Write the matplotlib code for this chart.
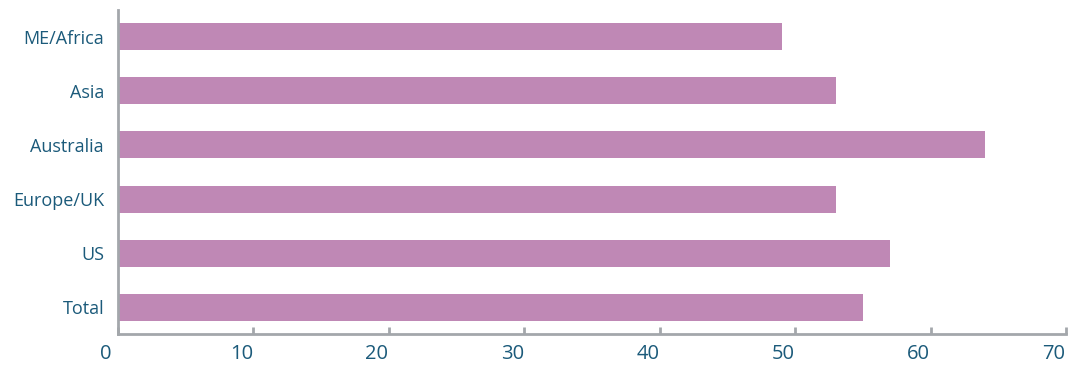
import matplotlib
matplotlib.use("Agg")
import matplotlib.pyplot as plt
import matplotlib.transforms as mtransforms

categories = ["Total", "US", "Europe/UK", "Australia", "Asia", "ME/Africa"]
values = [55.0, 57.0, 53.0, 64.0, 53.0, 49.0]
xticks = [0, 10, 20, 30, 40, 50, 60, 70]

bar_color = "#BF88B5"
text_color = "#1B5A7A"
spine_color = "#A3A7AB"

plt.rcParams['font.family'] = ['Open Sans', 'DejaVu Sans']

fig = plt.figure(figsize=(10.68, 3.7), dpi=100)
ax = fig.add_axes([118/1068, 36/370, (1066-118)/1068, (334-10)/370])

ax.barh(range(len(categories)), values, height=0.5, color=bar_color)
ax.set_yticks(range(len(categories)))
ax.set_yticklabels(categories, fontsize=13, color=text_color)
ax.set_xlim(0, 70)
ax.set_ylim(-0.49, 5.49)
ax.set_xticks(xticks)
ax.set_xticklabels([str(t) for t in xticks], fontsize=14.5, color=text_color)

for s in ["top", "right"]:
    ax.spines[s].set_visible(False)
for s in ["left", "bottom"]:
    ax.spines[s].set_color(spine_color)
    ax.spines[s].set_linewidth(2)

ax.tick_params(axis="y", length=0, pad=10)
ax.tick_params(axis="x", direction="in", length=5, width=2, color=spine_color, pad=7)

offset = mtransforms.ScaledTranslation(-12/100, 0, fig.dpi_scale_trans)
for lbl in ax.get_xticklabels():
    lbl.set_transform(lbl.get_transform() + offset)

fig.savefig("out.png", dpi=100)
